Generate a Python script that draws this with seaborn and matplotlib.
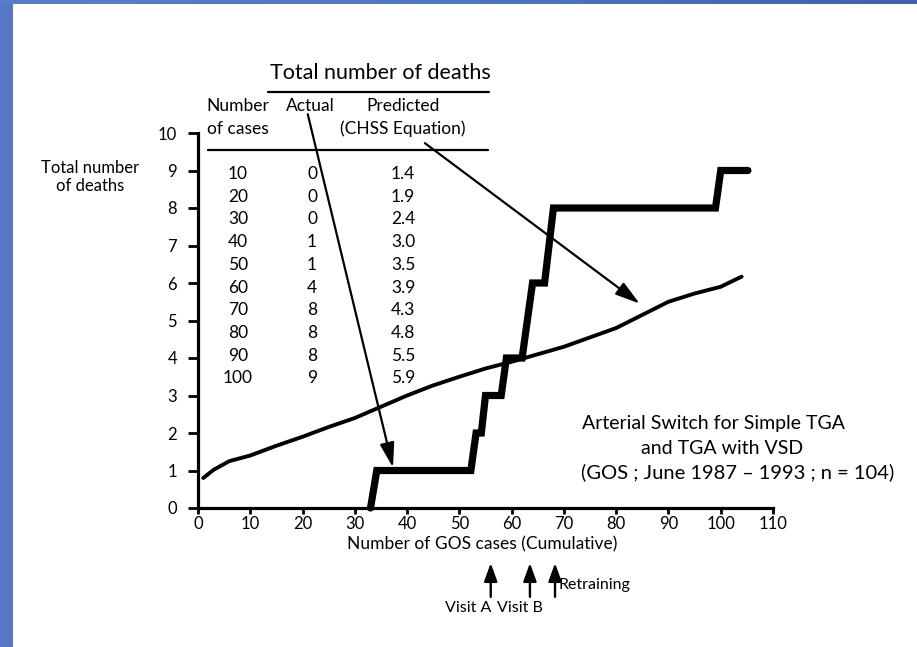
import numpy as np
import pandas as pd
import matplotlib
matplotlib.use("Agg")
import matplotlib.pyplot as plt
import seaborn as sns
from matplotlib.patches import Rectangle

# --- data -------------------------------------------------------------
# Observed cumulative deaths (stepped curve)
actual_cases = [33.0, 34.2, 52.2, 53.2, 54.2, 55.0, 58.0, 59.0, 62.0, 64.0, 66.3, 68.0, 99.0, 100.0, 105.2]
actual_deaths = [0, 1, 1, 2, 2, 3, 3, 4, 4, 6, 6, 8, 8, 9, 9]

# Predicted cumulative deaths (CHSS equation)
pred_cases = [1, 3, 6, 10, 15, 20, 25, 30, 35, 40, 45, 50, 55, 60, 65, 70, 75, 80, 85, 90, 95, 100, 104]
pred_deaths = [0.8, 1.02, 1.25, 1.4, 1.66, 1.9, 2.16, 2.4, 2.7, 3.0, 3.27, 3.5, 3.72, 3.9, 4.1, 4.3, 4.55, 4.8, 5.15, 5.5, 5.72, 5.9, 6.17]

# Inset table
table_cases = [10, 20, 30, 40, 50, 60, 70, 80, 90, 100]
table_actual = [0, 0, 0, 1, 1, 4, 8, 8, 8, 9]
table_pred = [1.4, 1.9, 2.4, 3.0, 3.5, 3.9, 4.3, 4.8, 5.5, 5.9]

# Events marked under the case axis
event_labels = ["Visit A", "Visit B", "Retraining"]
event_cases = [56.0, 63.5, 68.3]

x_ticks = list(range(0, 111, 10))
y_ticks = list(range(0, 11))

# --- style ------------------------------------------------------------
sns.set_style("ticks")
plt.rcParams["font.family"] = ["Lato", "DejaVu Sans"]
plt.rcParams["text.color"] = "black"

W, H = 917, 647
fig = plt.figure(figsize=(W / 100, H / 100), dpi=100)
fig.patch.set_facecolor("white")


def fx(px):
    return px / W


def fy(py):
    return 1 - py / H


# blue frame on the left and top edges
fig.add_artist(Rectangle((0, 0), fx(13), 1, transform=fig.transFigure,
                         facecolor="#5479c2", edgecolor="none", zorder=0))
grad = fig.add_axes([0, fy(4), 1, 4 / H])
grad.imshow(np.linspace(0, 1, 256)[None, :], aspect="auto",
            cmap=matplotlib.colors.LinearSegmentedColormap.from_list("edge", ["#5a7ec8", "#4f77c0", "#3d63a8"]))
grad.set_axis_off()

ax = fig.add_axes([fx(198), fy(508), (773 - 198) / W, (508 - 133) / H])

pred_df = pd.DataFrame({"cases": pred_cases, "deaths": pred_deaths})
act_df = pd.DataFrame({"cases": actual_cases, "deaths": actual_deaths})

sns.lineplot(data=pred_df, x="cases", y="deaths", ax=ax, color="black",
             linewidth=2.8, estimator=None, sort=False, clip_on=False,
             solid_capstyle="round", solid_joinstyle="round")
sns.lineplot(data=act_df, x="cases", y="deaths", ax=ax, color="black",
             linewidth=5.2, estimator=None, sort=False, clip_on=False,
             solid_joinstyle="miter")

ax.set_xlim(0, 110)
ax.set_ylim(0, 10)
ax.set_xticks(x_ticks)
ax.set_yticks(y_ticks)
ax.set_xticklabels([str(v) for v in x_ticks], fontsize=12)
ax.set_yticklabels([str(v) for v in y_ticks], fontsize=12)
ax.tick_params(axis="both", width=2, color="black", labelcolor="black")
ax.tick_params(axis="x", length=4.5, pad=1.5)
ax.tick_params(axis="y", length=7, pad=8)
for side in ["top", "right"]:
    ax.spines[side].set_visible(False)
for side in ["left", "bottom"]:
    ax.spines[side].set_linewidth(2.3)
    ax.spines[side].set_color("black")
ax.patch.set_alpha(0)

ax.set_xlabel("")
ax.set_ylabel("")
fig.text(fx(482), fy(544), "Number of GOS cases (Cumulative)", ha="center", va="center", fontsize=12.5)
fig.text(fx(90), fy(177), "Total number\nof deaths", ha="center", va="center", fontsize=12, linespacing=1.15)

# --- inset table ------------------------------------------------------
fig.text(fx(380), fy(73), "Total number of deaths", ha="center", va="center", fontsize=15.5)
fig.add_artist(plt.Line2D([fx(268), fx(489)], [fy(92), fy(92)], color="black", lw=1.6))
fig.text(fx(238), fy(106), "Number", ha="center", va="center", fontsize=12.5)
fig.text(fx(238), fy(129), "of cases", ha="center", va="center", fontsize=12.5)
fig.text(fx(310), fy(106), "Actual", ha="center", va="center", fontsize=12.5)
fig.text(fx(403), fy(106), "Predicted", ha="center", va="center", fontsize=12.5)
fig.text(fx(403), fy(129), "(CHSS Equation)", ha="center", va="center", fontsize=12.5)
fig.add_artist(plt.Line2D([fx(208), fx(488)], [fy(150), fy(150)], color="black", lw=1.6))

row0, row_step = 174, 22.7
for i, (c, a, p) in enumerate(zip(table_cases, table_actual, table_pred)):
    yy = fy(row0 + i * row_step)
    fig.text(fx(238), yy, f"{c}", ha="center", va="center", fontsize=12.5)
    fig.text(fx(312), yy, f"{a}", ha="center", va="center", fontsize=12.5)
    fig.text(fx(403), yy, f"{p:.1f}", ha="center", va="center", fontsize=12.5)

# pointers from the table headings to the two curves
arrow_kw = dict(arrowstyle="-|>,head_length=0.75,head_width=0.22", color="black",
                lw=1.6, shrinkA=0, shrinkB=0, mutation_scale=20)
ax.annotate("", xy=(37.3, 1.08), xytext=(21.0, 10.5), xycoords="data",
            arrowprops=arrow_kw, annotation_clip=False)
ax.annotate("", xy=(84.5, 5.45), xytext=(43.4, 9.73), xycoords="data",
            arrowprops=arrow_kw, annotation_clip=False)

# event markers below the case axis
up_kw = dict(arrowstyle="-|>,head_length=0.55,head_width=0.2", color="black",
             lw=1.7, shrinkA=0, shrinkB=0, mutation_scale=20)
xform = ax.get_xaxis_transform()
for c in event_cases:
    ax.annotate("", xy=(c, -0.147), xytext=(c, -0.237), xycoords=xform,
                textcoords=xform, arrowprops=up_kw, annotation_clip=False)
ax.text(event_cases[0] - 4.3, -0.266, event_labels[0], transform=xform,
        ha="center", va="center", fontsize=11.5)
ax.text(event_cases[1] - 1.9, -0.266, event_labels[1], transform=xform,
        ha="center", va="center", fontsize=11.5)
ax.text(event_cases[2] + 0.6, -0.205, event_labels[2], transform=xform,
        ha="left", va="center", fontsize=11.5)

# caption block
fig.text(fx(714), fy(424), "Arterial Switch for Simple TGA", ha="center", va="center", fontsize=14)
fig.text(fx(722), fy(448), "and TGA with VSD", ha="center", va="center", fontsize=14)
fig.text(fx(738), fy(472), "(GOS ; June 1987 \u2013 1993 ; n = 104)", ha="center", va="center", fontsize=14.5)

fig.savefig("out.png", dpi=100)
